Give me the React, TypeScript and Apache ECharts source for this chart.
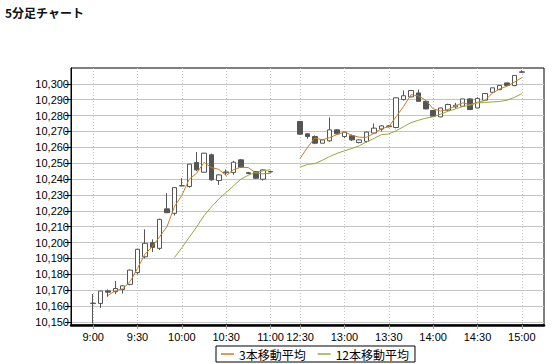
import React, { useEffect, useRef } from "react";
import * as echarts from "echarts";

const times = [
  "9:00", "9:05", "9:10", "9:15", "9:20", "9:25", "9:30", "9:35", "9:40", "9:45", "9:50", "9:55",
  "10:00", "10:05", "10:10", "10:15", "10:20", "10:25", "10:30", "10:35", "10:40", "10:45", "10:50", "10:55",
  "11:00",
  "12:30", "12:35", "12:40", "12:45", "12:50", "12:55", "13:00", "13:05", "13:10", "13:15", "13:20", "13:25",
  "13:30", "13:35", "13:40", "13:45", "13:50", "13:55", "14:00", "14:05", "14:10", "14:15", "14:20", "14:25",
  "14:30", "14:35", "14:40", "14:45", "14:50", "14:55", "15:00",
];

const opens = [
  10161.5, 10161.6, 10169.5, 10169, 10170.4, 10173.6, 10181, 10191, 10199.9, 10196.3,
  10221.2, 10218.4, 10235.7, 10235.3, 10250.4, 10244.3, 10255.3, 10239.1, 10244, 10244.1,
  10252.1, 10244, 10244.7, 10239.9, 10244.5,
  10276.3, 10268.5, 10266.8, 10262.6, 10264.1, 10271, 10266.8, 10267.3, 10263, 10263.7,
  10269, 10271.5, 10273, 10272.5, 10290.1, 10291.8, 10294.3, 10289, 10283.2, 10279.2,
  10283.4, 10285.5, 10285.9, 10290.5, 10284.8, 10289.7, 10294.7, 10296.4, 10300.6, 10298.9,
  10307.3,
];

const closes = [
  10161.8, 10169.4, 10168.7, 10171, 10172.7, 10182.6, 10195.7, 10199.5, 10196.9, 10214.6,
  10218.8, 10234.6, 10235.8, 10249.4, 10245.8, 10256.3, 10239.5, 10242.6, 10244.5, 10250.6,
  10247.5, 10243.5, 10240.5, 10245.8, 10244.7,
  10268.3, 10266.8, 10262.6, 10264.7, 10271, 10268.5, 10269.6, 10264.7, 10264.7, 10269.6,
  10272.1, 10273.5, 10273.5, 10291.2, 10292.5, 10295.8, 10289, 10284.2, 10279.6, 10284.8,
  10287, 10286.5, 10290.5, 10283.8, 10290.8, 10293.9, 10297.5, 10299, 10299, 10305.3,
  10307.6,
];

const lows = [
  10149, 10158.8, 10165.8, 10167.5, 10167.9, 10173, 10180, 10190, 10194, 10195.3,
  10218.5, 10217, 10235.5, 10234.6, 10245, 10244, 10239, 10236.3, 10242.6, 10242.6,
  10247, 10243, 10240, 10239, 10244,
  10268, 10265.4, 10262, 10262.5, 10263.5, 10268, 10265.8, 10264, 10262.5, 10263,
  10268.5, 10270, 10272.5, 10272, 10289.5, 10291.5, 10289, 10284, 10279.5, 10279,
  10283, 10284.5, 10285.5, 10283.5, 10284.5, 10289.5, 10294.5, 10296, 10299, 10298.5,
  10307,
];

const highs = [
  10167.5, 10169.5, 10170.4, 10175.7, 10173, 10183, 10196, 10208.3, 10202, 10215,
  10231, 10235, 10240.5, 10249.5, 10257, 10256.5, 10256, 10243, 10246, 10251.5,
  10252.5, 10244.5, 10245, 10246, 10245,
  10276.5, 10269, 10267.5, 10265, 10278.8, 10271.5, 10269.8, 10268, 10265, 10270,
  10275, 10274, 10274, 10291.5, 10295.8, 10296, 10296.4, 10289.5, 10283.5, 10285,
  10287.5, 10288, 10290.5, 10291, 10291.5, 10294, 10297.5, 10299, 10300.8, 10305.3,
  10308.5,
];

const yTickLabels = [
  10150, 10160, 10170, 10180, 10190, 10200, 10210, 10220, 10230, 10240,
  10250, 10260, 10270, 10280, 10290, 10300,
];

const maSeries = [
  { name: "3本移動平均", period: 3, color: "#C47F25" },
  { name: "12本移動平均", period: 12, color: "#97A83C" },
];

const PAD = 3;
const GAP = 3;
const sessionBreak = times.indexOf("12:30");

function movingAverage(values: number[], n: number): (number | null)[] {
  return values.map((_, i) => {
    if (i < n - 1) return null;
    let s = 0;
    for (let k = i - n + 1; k <= i; k++) s += values[k];
    return +(s / n).toFixed(2);
  });
}

function buildOption() {
  const cats: string[] = [];
  const candle: any[] = [];
  const mas: any[][] = maSeries.map(() => []);
  const maVals = maSeries.map((m) => movingAverage(closes, m.period));
  const blank = () => {
    cats.push("");
    candle.push(["-", "-", "-", "-"]);
    mas.forEach((a) => a.push("-"));
  };
  for (let p = 0; p < PAD; p++) blank();
  times.forEach((t, i) => {
    if (i === sessionBreak) for (let g = 0; g < GAP; g++) blank();
    cats.push(t);
    candle.push([opens[i], closes[i], lows[i], highs[i]]);
    maVals.forEach((v, k) => mas[k].push(v[i] == null ? "-" : v[i]));
  });
  for (let p = 0; p < PAD; p++) blank();

  const isLabel = (_: number, v: string) =>
    v !== "" && (v.endsWith(":00") || v.endsWith(":30"));

  return {
    animation: false,
    backgroundColor: "#fff",
    title: {
      text: "5分足チャート",
      left: 5,
      top: 6,
      padding: 0,
      textStyle: {
        fontSize: 12,
        fontWeight: "bold",
        color: "#111",
        fontFamily: "Noto Sans CJK JP",
      },
    },
    legend: {
      data: maSeries.map((m) => ({ name: m.name, icon: "rect", itemStyle: { color: m.color } })),
      left: 216,
      top: 346,
      orient: "horizontal",
      padding: [1, 6, 1, 5],
      itemGap: 12,
      itemWidth: 13,
      itemHeight: 1.5,
      borderColor: "#000",
      borderWidth: 1,
      borderRadius: 0,
      textStyle: {
        fontSize: 12,
        color: "#000",
        fontFamily: "Noto Sans CJK JP",
        lineHeight: 14,
      },
    },
    grid: {
      left: 71,
      right: 10,
      top: 68,
      bottom: 39,
      show: true,
      borderColor: "#000",
      borderWidth: 1,
      outerBoundsMode: "none",
    },
    xAxis: {
      type: "category",
      data: cats,
      boundaryGap: false,
      axisLine: { show: true, onZero: false, lineStyle: { color: "#000", width: 2.5 } },
      axisTick: { show: true, interval: isLabel, length: 4, lineStyle: { color: "#999" } },
      axisLabel: {
        interval: isLabel,
        color: "#000",
        fontSize: 11,
        fontFamily: "Liberation Sans",
        margin: 6,
      },
      splitLine: {
        show: true,
        interval: isLabel,
        lineStyle: { color: "#c4c4c4", type: [1, 2], width: 1 },
      },
    },
    yAxis: {
      type: "value",
      min: 10148,
      max: 10310,
      splitNumber: 16,
      minInterval: 10,
      maxInterval: 10,
      axisLine: { show: true, lineStyle: { color: "#000", width: 1 } },
      axisTick: {
        show: true,
        length: 6,
        customValues: yTickLabels,
        lineStyle: { color: "#000" },
      },
      axisLabel: {
        customValues: yTickLabels,
        color: "#000",
        fontSize: 11,
        fontFamily: "Liberation Sans",
        margin: 2,
        formatter: (v: number) => v.toLocaleString("en-US"),
      },
      splitLine: { show: true, lineStyle: { color: "#c4c4c4", width: 1 } },
    },
    series: [
      {
        type: "candlestick",
        name: "5分足",
        data: candle,
        barWidth: 5,
        itemStyle: {
          color: "#ffffff",
          color0: "#555555",
          borderColor: "#555555",
          borderColor0: "#555555",
          borderWidth: 1,
        },
      },
      ...maSeries.map((m, k) => ({
        type: "line",
        name: m.name,
        data: mas[k],
        symbol: "none",
        connectNulls: false,
        color: m.color,
        lineStyle: { color: m.color, width: 1 },
      })),
    ],
  };
}

export default function App() {
  const ref = useRef<HTMLDivElement>(null);
  useEffect(() => {
    if (!ref.current) return;
    const chart = echarts.init(ref.current, undefined, { renderer: "svg" });
    chart.setOption(buildOption() as any);
    return () => chart.dispose();
  }, []);
  return (
    <div
      ref={ref}
      style={{ position: "fixed", left: 0, top: 0, width: 554, height: 364, background: "#fff" }}
    />
  );
}
